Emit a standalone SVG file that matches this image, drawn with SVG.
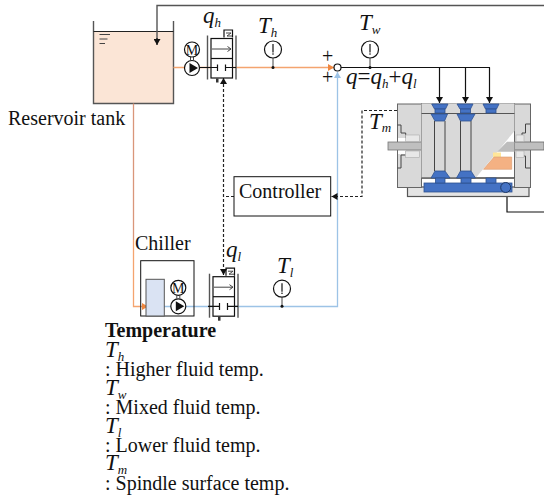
<svg xmlns="http://www.w3.org/2000/svg" width="544" height="497" viewBox="0 0 544 497">
<style>
text{font-family:"Liberation Serif","Times New Roman",serif;fill:#111;font-size:20px}
.big{font-size:23px;font-style:italic}
.sub{font-size:13px;font-style:italic}
.k{fill:none;stroke:#111;stroke-width:1.2}
.w{fill:#fff;stroke:#111;stroke-width:1.2}
.bar{fill:none;stroke:#555;stroke-width:1.4}
.d{fill:none;stroke:#222;stroke-width:1.2;stroke-dasharray:3 2}
.blue{fill:#4472c4;stroke:#2f528f;stroke-width:.8}
.gr{fill:#d9d9d9;stroke:#666;stroke-width:1}
.thin{fill:none;stroke:#444;stroke-width:1}
</style>
<defs>
<marker id="a" markerUnits="userSpaceOnUse" markerWidth="7" markerHeight="7" refX="6" refY="3.5" orient="auto"><path d="M0 0L6 3.5L0 7Z" fill="#111"/></marker>
<marker id="o" markerUnits="userSpaceOnUse" markerWidth="7" markerHeight="7" refX="6" refY="3.5" orient="auto"><path d="M0 0L6 3.5L0 7Z" fill="#f0873f"/></marker>
<marker id="b" markerUnits="userSpaceOnUse" markerWidth="7" markerHeight="7" refX="6" refY="3.5" orient="auto"><path d="M0 0L6 3.5L0 7Z" fill="#9dc3e6"/></marker>
<g id="pump"><circle cx="0" cy="0" r="7.5" class="w"/><path d="M-2.500-5L6 0L-2.500 5Z" fill="#111"/><line x1="-1.500" y1="-7.500" x2="-1.500" y2="-11" class="thin"/><line x1="1.500" y1="-7.500" x2="1.500" y2="-11" class="thin"/><circle cx="0" cy="-18.500" r="7.500" class="w"/><text x="0" y="-13.500" text-anchor="middle" style="font-size:14px">M</text></g>
<g id="valve"><rect x="0" y="0" width="21.500" height="39.500" class="w"/><line x1="0" y1="20" x2="21.500" y2="20" class="k"/><path d="M1 10.500H20M16.500 8L20 10.500L16.500 13" class="thin"/><line x1="-3.500" y1="-3" x2="-3.500" y2="41" class="bar"/><line x1="25" y1="-3" x2="25" y2="41" class="bar"/><path d="M13-1V-8.500H21.500V-1" class="k"/><path d="M15-5.500H20L16-2.500H21" class="thin"/><rect x="5" y="40" width="2.500" height="4" fill="#333"/></g>
<g id="gauge"><circle cx="0" cy="0" r="8.500" class="w"/><line x1="0" y1="-5.500" x2="0" y2="3" class="k"/><circle cx="0" cy="4.500" r=".8" fill="#111"/></g>
</defs>

<g id="reservoir-tank">
<rect x="93.500" y="31.500" width="80" height="72" fill="#fbe5d6"/>
<path d="M93.500 21V103.500H173.500V21" class="bar"/>
<line x1="93.500" y1="31.500" x2="173.500" y2="31.500" stroke="#222" stroke-width="1"/>
<path d="M99.500 34.500H110M99.500 39H107.500M99.500 43.500H105" class="thin"/>
<text x="8" y="125">Reservoir tank</text>
</g>

<g id="connectors">
<path d="M544 5.500H157V41" fill="none" stroke="#555" stroke-width="1.400"/>
<path d="M157 38V45" class="k" marker-end="url(#a)"/>
<path d="M173.500 67.500H334" fill="none" stroke="#f4a46f" stroke-width="1.300" marker-end="url(#o)"/>
<path d="M133.500 103.500V240" fill="none" stroke="#d9967a" stroke-width="1.300"/>
<path d="M133.500 240V306.500H148" fill="none" stroke="#f4a46f" stroke-width="1.300" marker-end="url(#o)"/>
<path d="M164 306.500H337.500V72" fill="none" stroke="#9dc3e6" stroke-width="1.300" marker-end="url(#b)"/>
<path d="M341 67.500H490" class="k"/>
<path d="M439.500 67.500V103" class="k" marker-end="url(#a)"/>
<path d="M465.500 67.500V103" class="k" marker-end="url(#a)"/>
<path d="M489.500 67.500V103" class="k" marker-end="url(#a)"/>
<path d="M234 196.500H223.500" class="d"/>
<path d="M223.500 84V270" class="d"/>
<path d="M223.500 84V78" class="k" marker-end="url(#a)"/>
<path d="M223.500 269V275" class="k" marker-end="url(#a)"/>
<path d="M397 110.500H362V196.500H331.500" class="d" marker-end="url(#a)"/>
<path d="M507 188V212H544" class="k"/>
</g>

<g id="pump-high"><use href="#pump" x="192" y="68"/></g>
<g id="valve-high"><use href="#valve" x="211" y="38.500"/><path d="M200 67.500H217.500M225.500 67.500H236M217.500 64.500V71M225.500 64.500V71" class="k"/></g>
<g id="sensor-th"><use href="#gauge" x="273" y="49.500"/><line x1="273" y1="58" x2="273" y2="68" class="thin"/><circle cx="273" cy="67.500" r="1.500" fill="#111"/></g>
<g id="sensor-tw"><use href="#gauge" x="370" y="49.500"/><line x1="370" y1="58" x2="370" y2="68" class="thin"/><circle cx="370" cy="67.500" r="1.500" fill="#111"/></g>
<g id="junction"><circle cx="337.500" cy="67.500" r="3.500" class="w"/></g>

<g id="labels">
<text x="203" y="23"><tspan class="big">q</tspan><tspan class="sub" dy="4">h</tspan></text>
<text x="258" y="33"><tspan class="big">T</tspan><tspan class="sub" dy="4">h</tspan></text>
<text x="359" y="30"><tspan class="big">T</tspan><tspan class="sub" dy="4">w</tspan></text>
<text x="322" y="63">+</text><text x="322" y="84">+</text>
<text x="346" y="84"><tspan class="big">q</tspan><tspan style="font-size:23px">=</tspan><tspan class="big">q</tspan><tspan class="sub" dy="4">h</tspan><tspan style="font-size:23px" dy="-4">+</tspan><tspan class="big">q</tspan><tspan class="sub" dy="4">l</tspan></text>
<text x="369" y="129"><tspan class="big">T</tspan><tspan class="sub" dy="3">m</tspan></text>
<text x="226" y="257"><tspan class="big">q</tspan><tspan class="sub" dy="4">l</tspan></text>
<text x="277" y="273"><tspan class="big">T</tspan><tspan class="sub" dy="4">l</tspan></text>
</g>

<g id="spindle">
<rect x="407.500" y="187" width="121.500" height="9.500" fill="#e4e4e4" stroke="#555" stroke-width="1.200"/>
<rect x="397.500" y="104" width="24" height="83.500" class="gr"/>
<rect x="514.500" y="104" width="16" height="83.500" class="gr"/>
<rect x="398" y="138" width="8" height="4" fill="#fff"/><rect x="398" y="150" width="8" height="4" fill="#fff"/>
<path d="M397.500 125H401V133H405.700V138M405.700 155H401V168H397.500" class="thin"/>
<path d="M530.500 124H525.500V133H522V136M522 156H525.500V168H530.500" class="thin"/>
<rect x="388" y="142" width="33.500" height="8" fill="#bfbfbf" stroke="#777" stroke-width=".8"/>
<rect x="514.500" y="142" width="29.500" height="8" fill="#bfbfbf" stroke="#666" stroke-width=".8"/>
<rect x="405.500" y="135" width="14" height="6.500" fill="#e8e8e8" stroke="#aaa" stroke-width=".6"/><rect x="405.500" y="151" width="14" height="6.500" fill="#e8e8e8" stroke="#aaa" stroke-width=".6"/>
<rect x="516" y="135" width="8" height="6.500" fill="#e8e8e8" stroke="#aaa" stroke-width=".6"/><rect x="516" y="151" width="8" height="6.500" fill="#e8e8e8" stroke="#aaa" stroke-width=".6"/>
<rect x="421.500" y="104" width="93" height="74" fill="#fff" stroke="#666"/>
<path d="M421.500 104H514.500V131L475.700 178H421.500Z" fill="#d9d9d9"/>
<line x1="421.500" y1="113.500" x2="514.500" y2="113.500" stroke="#555"/>
<path d="M497 151.700L507 141.700H514.500V151.700Z" fill="#bdbdbd"/>
<rect x="493" y="152.500" width="8" height="5" fill="#ffe699"/>
<path d="M483.500 169.300L494 157H511.700V169.300Z" fill="#f4b183" stroke="#d79a6e" stroke-width=".6"/>
<path d="M434.500 121V171M445 121V171M460.500 121V171M471 121V171" class="thin"/>
<line x1="421.500" y1="178" x2="514.500" y2="178" stroke="#333" stroke-width="1.200"/>
<path d="M421.500 178V187.500M514.500 178V187.500" stroke="#666" fill="none"/>
<rect x="424" y="183" width="88" height="9" class="blue"/>
<path d="M431.700 104H448L445.500 109H434.500Z" class="blue"/><rect x="435" y="109" width="10" height="4" class="blue"/>
<path d="M457 104H473L470.500 109H460Z" class="blue"/><rect x="460.500" y="109" width="10" height="4" class="blue"/>
<path d="M483 104H499L496.500 109H485.500Z" class="blue"/><rect x="486" y="109" width="10" height="4" class="blue"/>
<path d="M431 114H447.500L444.500 121H435Z" class="blue"/><path d="M457 114H475L471 121H460.500Z" class="blue"/>
<path d="M435 171H445L450 178H431Z" class="blue"/><path d="M460.500 171H471L475.500 178H456.500Z" class="blue"/>
<rect x="435.500" y="178" width="9.500" height="5" class="blue"/><rect x="461" y="178" width="10" height="5" class="blue"/><rect x="486" y="178" width="10" height="5" class="blue"/>
<circle cx="505.700" cy="187.500" r="5" fill="#4472c4" stroke="#1f3864"/>
</g>

<g id="controller"><rect x="234" y="176.700" width="96.700" height="39.300" fill="#fff" stroke="#111"/><text x="239" y="198">Controller</text></g>

<g id="chiller">
<text x="135" y="250">Chiller</text>
<rect x="140.700" y="260.700" width="53.300" height="55.300" fill="none" stroke="#111"/>
<rect x="146" y="279.300" width="18.300" height="36.700" fill="#dae3f3" stroke="#555"/>
</g>
<g id="pump-low"><use href="#pump" x="178.300" y="306.300"/></g>
<g id="valve-low"><use href="#valve" x="213" y="276.700"/><path d="M208 306.300H219.500M227.500 306.300H238M219.500 303V310M227.500 303V310" class="k"/></g>
<g id="sensor-tl"><use href="#gauge" x="282" y="288.700"/><line x1="282" y1="297" x2="282" y2="306" class="thin"/><circle cx="282" cy="306.300" r="1.500" fill="#111"/></g>

<g id="legend">
<text x="105" y="337" font-weight="bold">Temperature</text>
<text x="105" y="357"><tspan class="big">T</tspan><tspan class="sub" dy="4">h</tspan></text>
<text x="105" y="376">: Higher fluid temp.</text>
<text x="105" y="395"><tspan class="big">T</tspan><tspan class="sub" dy="4">w</tspan></text>
<text x="105" y="414">: Mixed fluid temp.</text>
<text x="105" y="433"><tspan class="big">T</tspan><tspan class="sub" dy="4">l</tspan></text>
<text x="105" y="452">: Lower fluid temp.</text>
<text x="105" y="470"><tspan class="big">T</tspan><tspan class="sub" dy="4">m</tspan></text>
<text x="105" y="490">: Spindle surface temp.</text>
</g>
</svg>
